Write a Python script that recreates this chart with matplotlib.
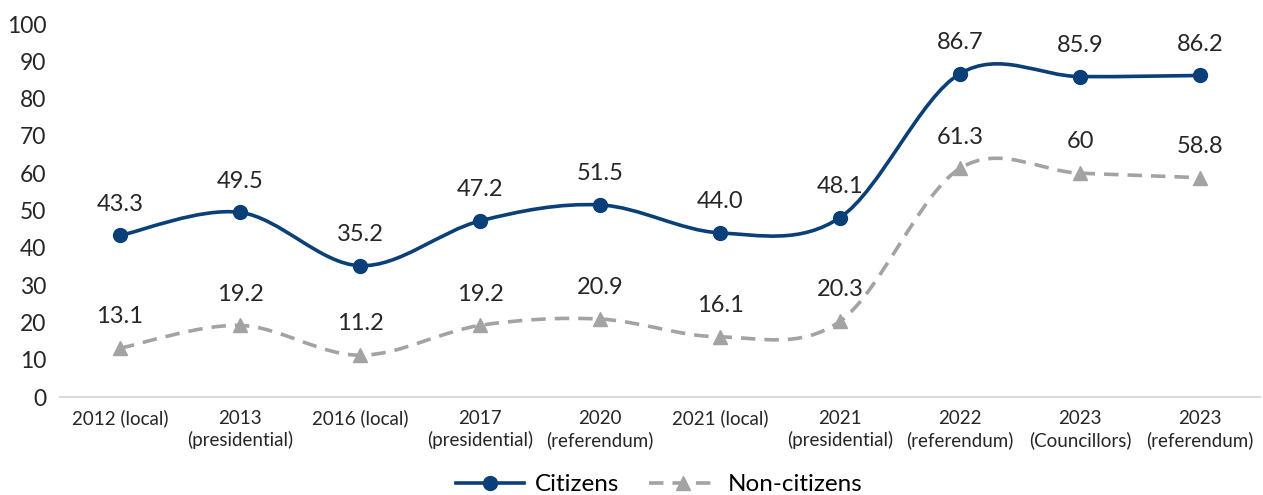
import numpy as np
import matplotlib.pyplot as plt
from matplotlib.path import Path
from matplotlib.patches import PathPatch
from matplotlib.lines import Line2D

plt.rcParams['font.family'] = ['Lato', 'DejaVu Sans']

categories = ["2012 (local)", "2013\n(presidential)", "2016 (local)", "2017\n(presidential)",
              "2020\n(referendum)", "2021 (local)", "2021\n(presidential)", "2022\n(referendum)",
              "2023\n(Councillors)", "2023\n(referendum)"]
citizens = [43.3, 49.5, 35.2, 47.2, 51.5, 44.0, 48.1, 86.7, 85.9, 86.2]
citizens_labels = ["43.3", "49.5", "35.2", "47.2", "51.5", "44.0", "48.1", "86.7", "85.9", "86.2"]
noncitizens = [13.1, 19.2, 11.2, 19.2, 20.9, 16.1, 20.3, 61.3, 60.0, 58.8]
noncitizens_labels = ["13.1", "19.2", "11.2", "19.2", "20.9", "16.1", "20.3", "61.3", "60", "58.8"]

BLUE = "#0a3f78"
GREY = "#a3a3a6"


def smooth_path(x, y):
    # Catmull-Rom style bezier, like Excel's smoothed line
    pts = np.column_stack([x, y]).astype(float)
    verts = [pts[0]]
    codes = [Path.MOVETO]
    n = len(pts)
    for i in range(n - 1):
        p0 = pts[i - 1] if i > 0 else pts[i]
        p1 = pts[i]
        p2 = pts[i + 1]
        p3 = pts[i + 2] if i + 2 < n else pts[i + 1]
        c1 = p1 + (p2 - p0) / 6.0
        c2 = p2 - (p3 - p1) / 6.0
        verts += [c1, c2, p2]
        codes += [Path.CURVE4] * 3
    return Path(verts, codes)


fig = plt.figure(figsize=(12.63, 4.95), dpi=100)
ax = fig.add_axes([60 / 1263, 98 / 495, 1200 / 1263, 373 / 495])

x = np.arange(len(categories))

ax.add_patch(PathPatch(smooth_path(x, noncitizens), fill=False, edgecolor=GREY,
                       lw=2.6, linestyle=(0, (4, 2.5)), zorder=2))
ax.plot(x, noncitizens, linestyle="none", marker="^", markersize=10, color=GREY, zorder=3)

ax.add_patch(PathPatch(smooth_path(x, citizens), fill=False, edgecolor=BLUE,
                       lw=2.6, zorder=4))
ax.plot(x, citizens, linestyle="none", marker="o", markersize=10, color=BLUE, zorder=5)

for xi, v, t in zip(x, citizens, citizens_labels):
    ax.annotate(t, (xi, v), xytext=(0, 15), textcoords="offset points",
                ha="center", va="bottom", fontsize=17, color="#262626")
for xi, v, t in zip(x, noncitizens, noncitizens_labels):
    ax.annotate(t, (xi, v), xytext=(0, 15), textcoords="offset points",
                ha="center", va="bottom", fontsize=17, color="#262626")

ax.set_xlim(-0.5, len(categories) - 0.5)
ax.set_ylim(0, 100)
ax.set_yticks(range(0, 101, 10))
ax.set_xticks(x)
ax.set_xticklabels(categories, fontsize=13.5, color="#262626", linespacing=1.3)
ax.tick_params(axis="y", labelsize=16.5, labelcolor="#262626", length=0, pad=10)
ax.tick_params(axis="x", length=0, pad=9)

for s in ["top", "right", "left"]:
    ax.spines[s].set_visible(False)
ax.spines["bottom"].set_color("#d9d9d9")
ax.spines["bottom"].set_linewidth(1.5)

handles = [
    Line2D([], [], color=BLUE, lw=2.6, marker="o", markersize=10),
    Line2D([], [], color=GREY, lw=2.6, linestyle=(0, (4, 2.5)), marker="^", markersize=10),
]
fig.legend(handles, ["Citizens", "Non-citizens"], loc="lower center",
           bbox_to_anchor=(0.522, -0.045), ncol=2, frameon=False, fontsize=17.5,
           handlelength=2.8, columnspacing=1.2, handletextpad=0.45)

fig.savefig("out.png", dpi=100)
